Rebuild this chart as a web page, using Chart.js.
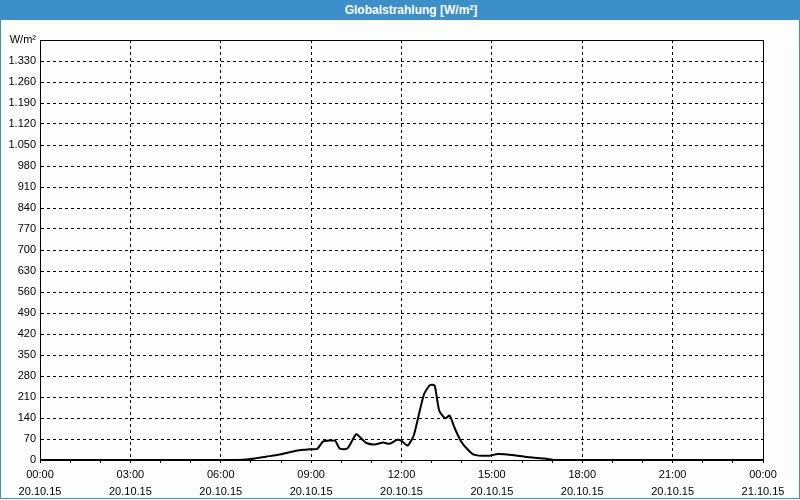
<!DOCTYPE html>
<html lang="de">
<head>
    <meta charset="UTF-8">
    <title>Globalstrahlung</title>
    <script src="https://cdn.jsdelivr.net/npm/chart.js"></script>
    <style>
        body { margin: 0; background: #fbfefb; }
        #frame { position: relative; width: 798px; height: 498px; border: 1px solid #3c8fc8; border-top: none; }
        #title { position: absolute; left: 0; top: 0; width: 800px; height: 20px; margin-left: -1px; background: #3c8fc8; color: #fff;
                 font: bold 12px "Liberation Sans", sans-serif; text-align: center; line-height: 20px; z-index: 2;
                 padding-left: 22px; box-sizing: border-box; }
        #wrap { position: absolute; left: -1px; top: 0; width: 800px; height: 500px; }
    </style>
    <script>
        // hours since 20.10.15 00:00
        const hours = [0, 6.5, 7.0, 7.5, 8.0, 8.5, 9.0, 9.2, 9.4, 9.6, 9.8, 9.95, 10.2, 10.5, 10.7, 10.85, 11.1, 11.4, 11.6, 11.85,
                       12.0, 12.2, 12.4, 12.55, 12.75, 12.95, 13.1, 13.25, 13.45, 13.6, 13.75, 13.95, 14.15, 14.4, 14.9, 15.2,
                       15.75, 16.25, 16.75, 17.0, 17.5, 24];
        const radiation = [0, 0, 3, 11, 19, 31, 36, 37, 62, 65, 64, 38, 38, 86, 68, 56, 52, 58, 54, 67,
                           64, 48, 80, 140, 220, 250, 248, 165, 139, 148, 110, 67, 40, 18, 14, 20,
                           16, 9, 5, 1, 0, 0];
        const timeLabels = ['00:00', '03:00', '06:00', '09:00', '12:00', '15:00', '18:00', '21:00', '00:00'];
        const dateLabels = ['20.10.15', '20.10.15', '20.10.15', '20.10.15', '20.10.15', '20.10.15', '20.10.15', '20.10.15', '21.10.15'];
        const unitLabel = 'W/m²';

        function fmt(v) {
            if (v >= 1000) return Math.floor(v / 1000) + '.' + String(v % 1000).padStart(3, '0');
            return String(v);
        }

        const frameBox = {
            id: 'frameBox',
            afterDraw(chart) {
                const a = chart.chartArea, ctx = chart.ctx;
                ctx.save();
                ctx.strokeStyle = '#000';
                ctx.lineWidth = 1;
                ctx.strokeRect(a.left + 0.5, a.top + 0.5, a.right - a.left, a.bottom - a.top);
                ctx.restore();
            }
        };

        document.addEventListener("DOMContentLoaded", () => {
            Chart.defaults.font.family = '"Liberation Sans", sans-serif';
            Chart.defaults.font.size = 11;
            Chart.defaults.color = '#000';
            const ctx = document.getElementById('radChart').getContext('2d');
            new Chart(ctx, {
                type: 'line',
                data: {
                    datasets: [{
                        data: hours.map((h, i) => ({ x: h, y: radiation[i] })),
                        borderColor: '#000',
                        borderWidth: 2,
                        pointRadius: 0,
                        fill: false,
                        tension: 0.2
                    }]
                },
                options: {
                    responsive: false,
                    animation: false,
                    layout: { padding: { top: 40, right: 37, left: 0, bottom: 0 } },
                    plugins: { legend: { display: false }, tooltip: { enabled: false } },
                    scales: {
                        x: {
                            type: 'linear', min: 0, max: 24,
                            afterFit: s => { s.height = 40; },
                            ticks: {
                                stepSize: 1, autoSkip: false, maxRotation: 0, padding: 4,
                                font: { lineHeight: 1.5 },
                                callback: v => v % 3 === 0 ? [timeLabels[v / 3], dateLabels[v / 3]] : ''
                            },
                            grid: {
                                color: c => (c.tick && c.tick.value % 3 === 0) ? '#000' : 'rgba(0,0,0,0)',
                                tickColor: '#000', tickLength: 3, tickBorderDash: [], lineWidth: 1
                            },
                            border: { display: true, color: '#000', width: 1, dash: [3, 3] }
                        },
                        y: {
                            min: 0, max: 1400,
                            afterFit: s => { s.width = 40; },
                            ticks: {
                                stepSize: 70, padding: 4, autoSkip: false,
                                callback: v => v === 1400 ? unitLabel : fmt(v)
                            },
                            grid: { color: '#000', drawTicks: false, lineWidth: 1 },
                            border: { display: true, color: '#000', width: 1, dash: [3, 3] }
                        }
                    }
                },
                plugins: [frameBox]
            });
        });
    </script>
</head>
<body>
    <div id="frame">
        <div id="title">Globalstrahlung [W/m²]</div>
        <div id="wrap"><canvas id="radChart" width="800" height="500"></canvas></div>
    </div>
</body>
</html>
